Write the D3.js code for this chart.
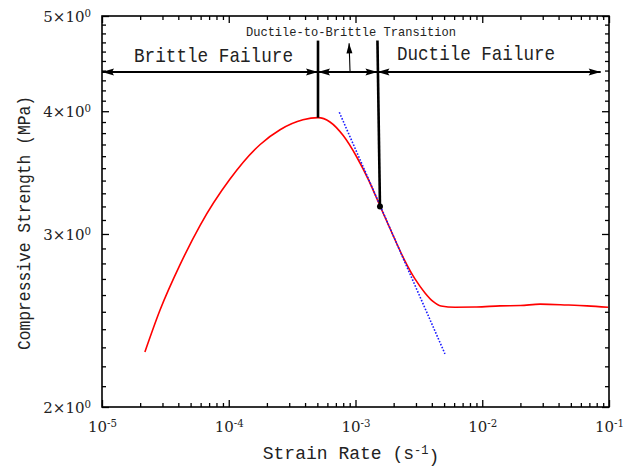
<!DOCTYPE html>
<html>
<head>
<meta charset="utf-8">
<script src="https://cdn.jsdelivr.net/npm/d3@7"></script>
<style>
  html, body { margin: 0; padding: 0; background: #fff; }
  svg { display: block; }
</style>
</head>
<body>
<svg id="chart" width="633" height="466"></svg>
<script>
// ---------------- data ----------------
const strainRate = [2.18e-5, 2.87e-5, 4.12e-5, 5.93e-5, 1.02e-4, 1.77e-4, 2.54e-4, 3.85e-4,
                    5.06e-4, 6.29e-4, 7.97e-4, 1.028e-3, 1.278e-3, 1.561e-3, 1.941e-3, 2.413e-3,
                    2.946e-3, 3.535e-3, 4.087e-3, 4.726e-3, 6.10e-3, 9.0e-3, 1.38e-2, 2.0e-2,
                    2.86e-2, 4.67e-2, 6.71e-2, 9.82e-2];
const strength   = [2.275, 2.51, 2.79, 3.06, 3.41, 3.70, 3.83, 3.92,
                    3.94, 3.90, 3.78, 3.589, 3.398, 3.203, 3.007, 2.829,
                    2.700, 2.613, 2.561, 2.534, 2.527, 2.528, 2.535, 2.537,
                    2.545, 2.54, 2.535, 2.527];

// tangent (blue dotted) line end points
const tangentRate = [7.45e-4, 5.08e-3];
const tangentStrength = [3.99, 2.265];

// transition point
const transitionRate = [1.56e-3];
const transitionStrength = [3.200];

// vertical boundary lines: [top, bottom]
const boundary1Rate = [5.06e-4, 5.06e-4];
const boundary1Strength = [4.72, 3.94];
const boundary2Rate = [1.49e-3, 1.56e-3];
const boundary2Strength = [4.72, 3.200];

// horizontal region arrows (rate from, rate to) at a given strength level
const arrowLevel = 4.385;
const arrowFrom = [1e-5, 5.06e-4, 1.49e-3];
const arrowTo   = [5.06e-4, 1.49e-3, 8.6e-2];
// small pointer arrow (from bottom to tip)
const pointerRate = [9.06e-4, 8.9e-4];
const pointerStrength = [4.385, 4.69];

// annotations
const annoText = ["Brittle Failure", "Ductile Failure", "Ductile-to-Brittle Transition"];
const annoRate = [7.58e-5, 8.93e-3, 9.2e-4];
const annoStrength = [4.489, 4.51, 4.77];

// ticks
const xTickValues = [1e-5, 1e-4, 1e-3, 1e-2, 1e-1];
const xTickLabels = ["10^-5", "10^-4", "10^-3", "10^-2", "10^-1"];
const yTickValues = [2, 3, 4, 5];
const yTickLabels = ["2×10^0", "3×10^0", "4×10^0", "5×10^0"];

const xTitle = "Strain Rate (s^-1)";
const yTitle = "Compressive Strength (MPa)";

// ---------------- layout ----------------
const W = 633, H = 466;
const L = 102, R = 609, T = 16, B = 407;

const svg = d3.select("#chart");
const x = d3.scaleLog().domain([1e-5, 1e-1]).range([L, R]);
const y = d3.scaleLog().domain([2, 5]).range([B, T]);

const xMinor = [];
for (let e = -5; e < -1; e++) for (let k = 2; k <= 9; k++) xMinor.push(k * Math.pow(10, e));
const yMinor = [];
for (let i = 2; i < 5; i++) for (let k = 1; k <= 9; k++) yMinor.push(+(i + k / 10).toFixed(1));

const serif = "'DejaVu Serif', 'Liberation Serif', serif";
const mono = "'Liberation Mono', 'DejaVu Sans Mono', monospace";

const majorLen = 7, minorLen = 4;

function styleAxis(g) {
  g.select(".domain").remove();
  g.selectAll(".tick line").attr("stroke", "#000").attr("stroke-width", 1.3);
}

// bottom
svg.append("g").attr("transform", `translate(0,${B})`)
  .call(d3.axisBottom(x).tickValues(xMinor).tickSize(-minorLen).tickFormat(""))
  .call(styleAxis);
const xAxisG = svg.append("g").attr("transform", `translate(0,${B})`)
  .call(d3.axisBottom(x).tickValues(xTickValues).tickSize(-majorLen).tickPadding(14)
        .tickFormat((d, i) => xTickLabels[i]))
  .call(styleAxis);
// top
svg.append("g").attr("transform", `translate(0,${T})`)
  .call(d3.axisTop(x).tickValues(xMinor).tickSize(-minorLen).tickFormat(""))
  .call(styleAxis);
svg.append("g").attr("transform", `translate(0,${T})`)
  .call(d3.axisTop(x).tickValues(xTickValues).tickSize(-majorLen).tickFormat(""))
  .call(styleAxis);
// left
svg.append("g").attr("transform", `translate(${L},0)`)
  .call(d3.axisLeft(y).tickValues(yMinor).tickSize(-minorLen).tickFormat(""))
  .call(styleAxis);
const yAxisG = svg.append("g").attr("transform", `translate(${L},0)`)
  .call(d3.axisLeft(y).tickValues(yTickValues).tickSize(-majorLen).tickPadding(11)
        .tickFormat((d, i) => yTickLabels[i]))
  .call(styleAxis);
// right
svg.append("g").attr("transform", `translate(${R},0)`)
  .call(d3.axisRight(y).tickValues(yMinor).tickSize(-minorLen).tickFormat(""))
  .call(styleAxis);
svg.append("g").attr("transform", `translate(${R},0)`)
  .call(d3.axisRight(y).tickValues(yTickValues).tickSize(-majorLen).tickFormat(""))
  .call(styleAxis);

// superscript labels
function supLabel(sel, size) {
  sel.each(function() {
    const t = d3.select(this);
    const s = t.text();
    const [base, sup] = s.split("^");
    t.text(null);
    t.append("tspan").text(base);
    t.append("tspan").attr("dy", "-0.45em").attr("font-size", size * 0.68).text(sup);
  });
}
xAxisG.selectAll(".tick text")
  .attr("font-family", serif).attr("font-size", 15).attr("fill", "#222")
  .attr("dy", null).attr("y", 25)
  .call(supLabel, 15);
yAxisG.selectAll(".tick text")
  .attr("font-family", serif).attr("font-size", 15).attr("fill", "#222")
  .attr("dy", "0.35em").attr("x", -11)
  .call(supLabel, 15);

// frame
svg.append("rect").attr("x", L).attr("y", T).attr("width", R - L).attr("height", B - T)
  .attr("fill", "none").attr("stroke", "#000").attr("stroke-width", 1.6);

// axis titles
const xt = svg.append("text").attr("x", 351).attr("y", 459)
  .attr("text-anchor", "middle").attr("font-family", mono).attr("font-size", 18).attr("fill", "#222");
xt.append("tspan").text(xTitle.split("^")[0]);
xt.append("tspan").attr("dy", "-0.45em").attr("font-size", 12).text(xTitle.split("^")[1].replace(")", ""));
xt.append("tspan").attr("dy", "0.45em").text(")");

svg.append("text")
  .attr("transform", "translate(30,223) rotate(-90)")
  .attr("text-anchor", "middle").attr("font-family", mono).attr("font-size", 18).attr("fill", "#222")
  .attr("textLength", 254).attr("lengthAdjust", "spacingAndGlyphs")
  .text(yTitle);

// ---------------- data marks ----------------
const pts = strainRate.map((r, i) => [r, strength[i]]);
const line = d3.line().x(d => x(d[0])).y(d => y(d[1])).curve(d3.curveMonotoneX);

svg.append("path").datum(pts).attr("d", line)
  .attr("fill", "none").attr("stroke", "#ff0000").attr("stroke-width", 1.6);

const straight = d3.line().x(d => x(d[0])).y(d => y(d[1]));
svg.append("path").datum(tangentRate.map((r, i) => [r, tangentStrength[i]]))
  .attr("d", straight).attr("fill", "none").attr("stroke", "#1a1aff")
  .attr("stroke-width", 1.6).attr("stroke-dasharray", "1.6,1.6");

// boundary lines
[[boundary1Rate, boundary1Strength], [boundary2Rate, boundary2Strength]].forEach(([rs, ss]) => {
  svg.append("path").datum(rs.map((r, i) => [r, ss[i]]))
    .attr("d", straight).attr("fill", "none").attr("stroke", "#000").attr("stroke-width", 2.6);
});

svg.selectAll("circle.tp").data(transitionRate).enter().append("circle")
  .attr("class", "tp").attr("cx", d => x(d)).attr("cy", (d, i) => y(transitionStrength[i]))
  .attr("r", 3).attr("fill", "#000");

// arrow markers
const defs = svg.append("defs");
defs.append("marker").attr("id", "ah").attr("viewBox", "-13 -5 14 10")
  .attr("refX", 0).attr("refY", 0).attr("markerUnits", "userSpaceOnUse")
  .attr("markerWidth", 14).attr("markerHeight", 10).attr("orient", "auto-start-reverse")
  .append("path").attr("d", "M0,0 L-12,-3.6 L-10,0 L-12,3.6 Z").attr("fill", "#000");
defs.append("marker").attr("id", "ahs").attr("viewBox", "-11 -4 12 8")
  .attr("refX", 0).attr("refY", 0).attr("markerUnits", "userSpaceOnUse")
  .attr("markerWidth", 12).attr("markerHeight", 8).attr("orient", "auto")
  .append("path").attr("d", "M0,0 L-10,-3 L-10,3 Z").attr("fill", "#000");

arrowFrom.forEach((f, i) => {
  svg.append("path").datum([[f, arrowLevel], [arrowTo[i], arrowLevel]])
    .attr("d", straight).attr("fill", "none").attr("stroke", "#000").attr("stroke-width", 1.8)
    .attr("marker-start", "url(#ah)").attr("marker-end", "url(#ah)");
});
svg.append("path").datum(pointerRate.map((r, i) => [r, pointerStrength[i]]))
  .attr("d", straight).attr("fill", "none").attr("stroke", "#000").attr("stroke-width", 1.1)
  .attr("marker-end", "url(#ahs)");

// annotation texts
const annoSize = [21, 21, 13];
const annoLen = [159, 158, 210];
annoText.forEach((t, i) => {
  svg.append("text").attr("x", x(annoRate[i])).attr("y", y(annoStrength[i]))
    .attr("text-anchor", "middle").attr("font-family", mono).attr("font-size", annoSize[i])
    .attr("fill", "#222").attr("textLength", annoLen[i]).attr("lengthAdjust", "spacingAndGlyphs")
    .text(t);
});
</script>
</body>
</html>
